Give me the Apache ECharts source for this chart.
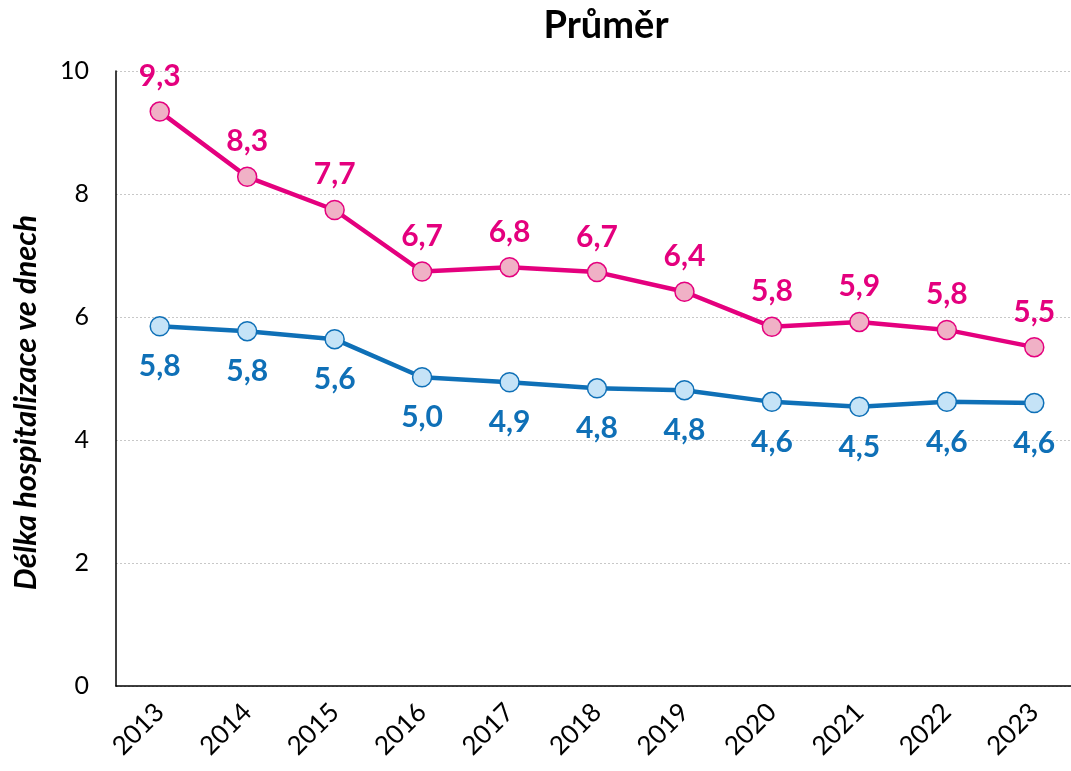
<!DOCTYPE html>
<html><head><meta charset="utf-8">
<script src="https://cdn.jsdelivr.net/npm/echarts@6/dist/echarts.min.js"></script>
<style>html,body{margin:0;padding:0;background:#fff}#c{width:1071px;height:771px}</style>
</head><body><div id="c"></div>
<script>
const years = ['2013','2014','2015','2016','2017','2018','2019','2020','2021','2022','2023'];
const pinkValues = [9.34, 8.28, 7.74, 6.74, 6.81, 6.73, 6.41, 5.84, 5.92, 5.79, 5.51];
const blueValues = [5.85, 5.77, 5.64, 5.02, 4.94, 4.84, 4.81, 4.62, 4.54, 4.62, 4.60];
const yTicks = [0, 2, 4, 6, 8, 10];
const titleText = 'Průměr';
const yAxisName = 'Délka hospitalizace ve dnech';

const FONT = 'Lato, "Open Sans", sans-serif';
const fmt = p => p.value.toFixed(1).replace('.', ',');
const chart = echarts.init(document.getElementById('c'), null, {renderer: 'canvas'});
chart.setOption({
  animation: false,
  backgroundColor: '#fff',
  title: {text: titleText, left: 601, top: 2, textAlign: 'center',
    textStyle: {fontFamily: FONT, fontSize: 38, fontWeight: 'bold', color: '#000'}},
  grid: {left: 116, top: 71, width: 962, height: 615, containLabel: false, outerBoundsMode: 'none'},
  xAxis: {type: 'category', data: years, boundaryGap: true,
    axisLine: {lineStyle: {color: '#000', width: 1.5}},
    axisTick: {show: false},
    axisLabel: {rotate: 45, fontFamily: FONT, fontSize: 26, color: '#000', margin: 22}},
  yAxis: {type: 'value', min: yTicks[0], max: yTicks[yTicks.length-1], interval: 2,
    name: yAxisName, nameLocation: 'middle', nameGap: 75,
    nameTextStyle: {fontFamily: FONT, fontSize: 31, fontWeight: 'bold', fontStyle: 'italic', color: '#000',
      padding: [0, 48, 0, 0]},
    axisLine: {show: true, lineStyle: {color: '#000', width: 1.5}},
    axisTick: {show: false},
    axisLabel: {fontFamily: FONT, fontSize: 25, color: '#000', margin: 27},
    splitLine: {show: true, lineStyle: {color: '#c8c8c8', type: [2, 2], width: 1}}},
  series: [
    {type: 'line', data: pinkValues, symbol: 'circle', symbolSize: 19,
      lineStyle: {color: '#E4007E', width: 4.5},
      itemStyle: {color: '#F0B1C6', borderColor: '#E4007E', borderWidth: 1.5},
      label: {show: true, position: 'top', distance: 10, formatter: fmt,
        fontFamily: FONT, fontSize: 30, fontWeight: 'bold', color: '#E4007E'}},
    {type: 'line', data: blueValues, symbol: 'circle', symbolSize: 19,
      lineStyle: {color: '#0F70B7', width: 4.5},
      itemStyle: {color: '#C5E3F7', borderColor: '#0F70B7', borderWidth: 1.5},
      label: {show: true, position: 'bottom', distance: 15, formatter: fmt,
        fontFamily: FONT, fontSize: 30, fontWeight: 'bold', color: '#0F70B7'}}
  ]
});
</script></body></html>
